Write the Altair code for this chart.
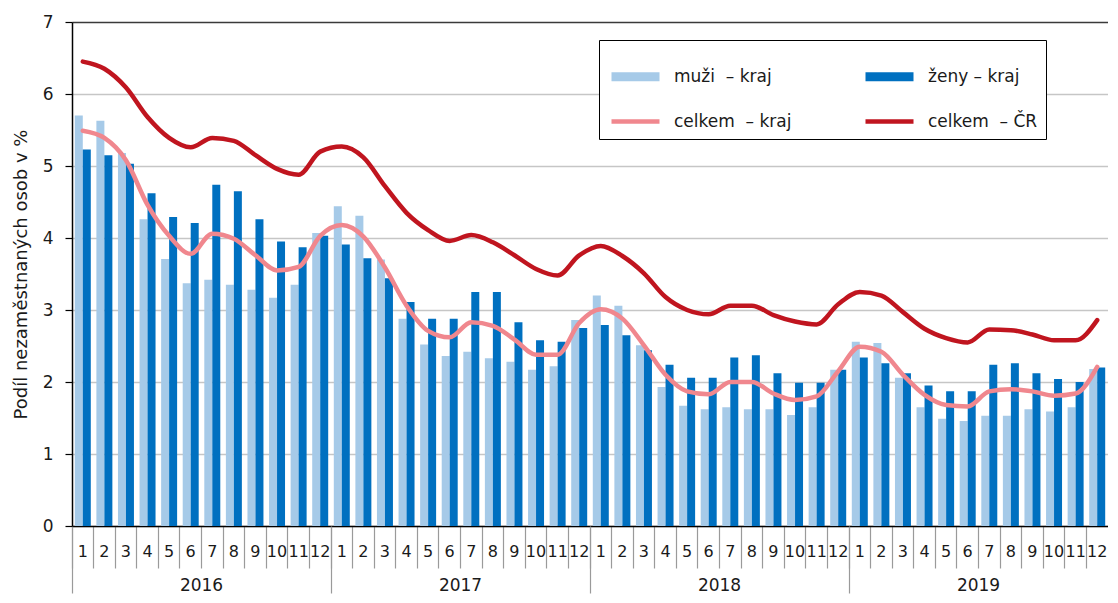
import altair as alt
import pandas as pd

# ---- data ----
years = [2016, 2017, 2018, 2019]
months = list(range(1, 13))

muzi = [5.70, 5.63, 5.18, 4.26, 3.71, 3.37, 3.42, 3.35, 3.28, 3.17, 3.35, 4.07,
        4.44, 4.31, 3.70, 2.88, 2.52, 2.36, 2.42, 2.33, 2.28, 2.17, 2.22, 2.86,
        3.20, 3.06, 2.51, 1.93, 1.67, 1.62, 1.65, 1.62, 1.62, 1.54, 1.65, 2.17,
        2.56, 2.54, 2.06, 1.65, 1.49, 1.46, 1.53, 1.53, 1.62, 1.59, 1.65, 2.18]
zeny = [5.23, 5.15, 5.03, 4.62, 4.29, 4.21, 4.74, 4.65, 4.26, 3.95, 3.87, 4.03,
        3.91, 3.72, 3.44, 3.11, 2.88, 2.88, 3.25, 3.25, 2.83, 2.58, 2.56, 2.75,
        2.79, 2.65, 2.44, 2.24, 2.06, 2.06, 2.34, 2.37, 2.12, 1.99, 1.99, 2.17,
        2.34, 2.26, 2.12, 1.95, 1.87, 1.87, 2.24, 2.26, 2.12, 2.04, 2.00, 2.20]
kraj = [5.49, 5.39, 5.08, 4.46, 4.03, 3.78, 4.06, 3.99, 3.76, 3.55, 3.60, 4.03,
        4.18, 4.02, 3.59, 3.06, 2.71, 2.62, 2.83, 2.78, 2.59, 2.38, 2.38, 2.82,
        3.01, 2.88, 2.51, 2.10, 1.87, 1.83, 2.00, 2.00, 1.84, 1.75, 1.80, 2.15,
        2.49, 2.42, 2.10, 1.82, 1.68, 1.66, 1.87, 1.90, 1.87, 1.81, 1.84, 2.21]
cr = [6.45, 6.35, 6.09, 5.68, 5.39, 5.26, 5.39, 5.35, 5.15, 4.96, 4.88, 5.20,
      5.27, 5.12, 4.72, 4.35, 4.11, 3.96, 4.04, 3.94, 3.76, 3.57, 3.48, 3.76,
      3.89, 3.75, 3.51, 3.18, 3.00, 2.94, 3.06, 3.06, 2.93, 2.84, 2.80, 3.08,
      3.25, 3.20, 2.97, 2.74, 2.61, 2.55, 2.73, 2.72, 2.66, 2.58, 2.58, 2.86]

series_names = ["muži\u00a0 – kraj", "ženy – kraj", "celkem\u00a0 – kraj", "celkem\u00a0 – ČR"]
colors = ["#a6cae8", "#0070c0", "#f0878e", "#c0151f"]
y_title = "Podíl nezaměstnaných osob v %"

n = len(years) * len(months)
idx = list(range(n))

bars = pd.DataFrame({
    "idx": idx * 2,
    "value": muzi + zeny,
    "series": [series_names[0]] * n + [series_names[1]] * n,
})
lines = pd.DataFrame({
    "idx": idx * 2,
    "value": kraj + cr,
    "series": [series_names[2]] * n + [series_names[3]] * n,
})

W = 1036
H = 504
step = W / n
FONT = "DejaVu Sans"
TXT = "#1a1a1a"

y_enc = alt.Y(
    "value:Q",
    scale=alt.Scale(domain=[0, 7], nice=False),
    axis=alt.Axis(
        values=list(range(8)), tickSize=7, tickColor="black", tickWidth=1.2,
        domainColor="black", domainWidth=1.5,
        labelFontSize=17, labelPadding=12, labelColor=TXT,
        title=y_title, titleFontSize=18, titleFontWeight="normal", titleColor=TXT,
        titlePadding=12,
        gridColor={"condition": {"test": "datum.value === 7", "value": "#3a3a3a"}, "value": "#c6c6c6"},
        gridWidth=1.5,
    ),
)

x_month = alt.X(
    "idx:O",
    title=None,
    scale=alt.Scale(paddingInner=0, paddingOuter=0),
    axis=alt.Axis(
        orient="bottom", bandPosition=0, grid=False,
        tickSize=42, tickColor="#9a9a9a", tickWidth=1.2,
        labelExpr="datum.value % 12 + 1",
        labelPadding=-25, labelAngle=0, labelBaseline="top",
        labelFontSize=16, labelColor=TXT, labelOverlap=False,
        domainColor="black", domainWidth=1.5,
    ),
)

x_year = alt.X(
    "idx:O",
    title=None,
    axis=alt.Axis(
        orient="bottom", bandPosition=0, grid=False,
        values=[0, 12, 24, 36],
        tickSize=67, tickColor="#9a9a9a", tickWidth=1.2,
        labelExpr="2016 + floor(datum.value / 12)", labelOffset=5.5 * step,
        labelPadding=-16, labelAngle=0, labelBaseline="top",
        labelFontSize=17, labelColor=TXT, labelOverlap=False,
        domain=False,
    ),
)

leg = alt.Legend(
    title=None, orient="none", legendX=527, legendY=18,
    columns=2, direction="horizontal", symbolType="stroke", symbolSize=2304,
    labelFontSize=17, labelFont=FONT, labelColor=TXT, labelOffset=10, labelLimit=400,
    columnPadding=55, rowPadding=-14, padding=8,
    strokeColor="black", fillColor="white",
)

color_scale = alt.Scale(domain=series_names, range=colors)

bar_chart = alt.Chart(bars).mark_bar().encode(
    x=x_month,
    xOffset=alt.XOffset("series:N", scale=alt.Scale(domain=series_names[:2], paddingInner=0, paddingOuter=0.35)),
    y=y_enc,
    color=alt.Color("series:N", scale=color_scale, legend=leg),
)

line_chart = alt.Chart(lines).mark_line(interpolate="monotone", strokeCap="round", strokeJoin="round").encode(
    x=x_year,
    y=y_enc,
    color=alt.Color("series:N", scale=color_scale, legend=leg),
    strokeWidth=alt.StrokeWidth("series:N", scale=alt.Scale(type="ordinal", domain=series_names, range=[9, 9, 4.5, 4.5]), legend=leg),
)

chart = (
    alt.layer(bar_chart, line_chart)
    .resolve_axis(x="independent")
    .properties(width=W, height=H, padding={"left": 4, "top": 5, "right": 0, "bottom": 0})
    .configure(font=FONT)
    .configure_view(stroke=None)
)

chart.save("out.html", embed_options={"renderer": "svg", "actions": False})
